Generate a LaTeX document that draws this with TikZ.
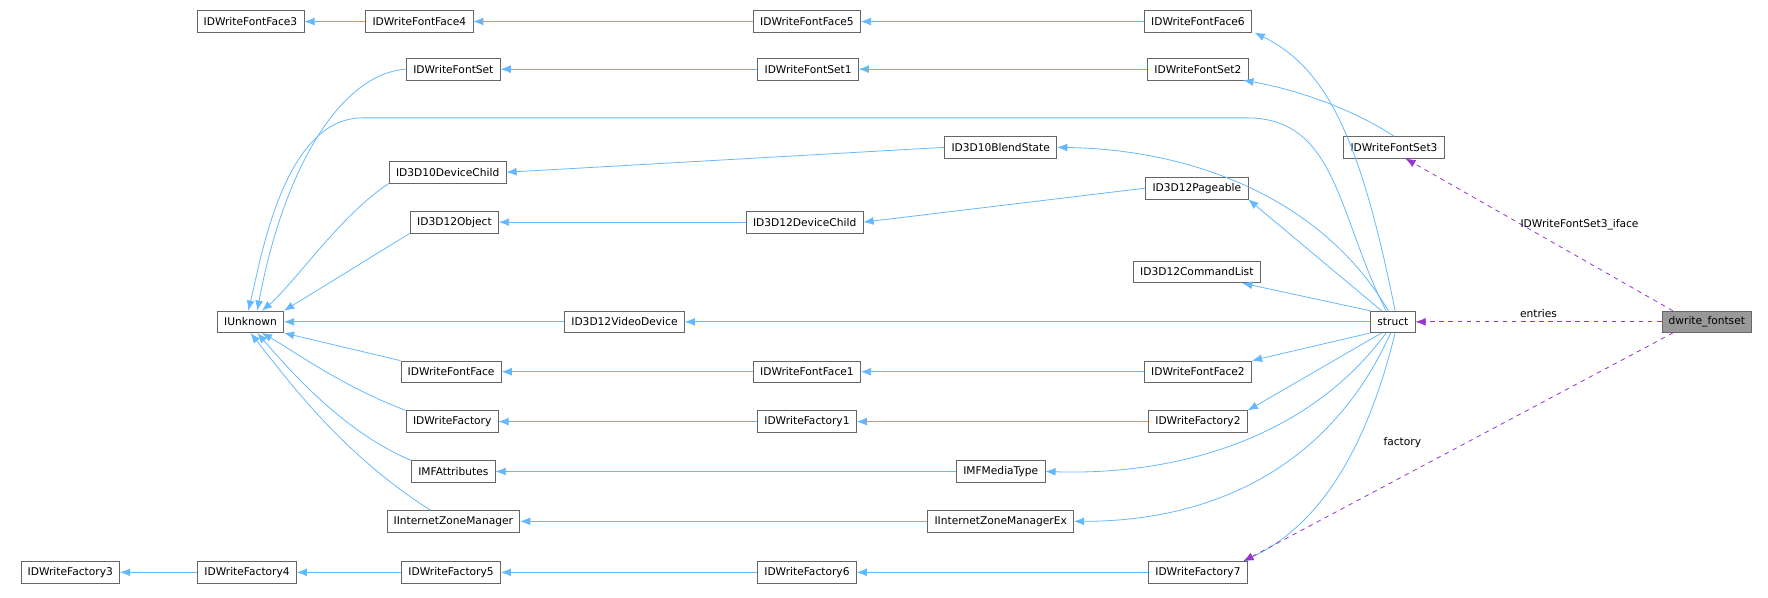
\documentclass[tikz,border=0pt]{standalone}
\usepackage{fontspec}
\setmainfont{DejaVu Sans}
\usetikzlibrary{arrows.meta}
\definecolor{eblue}{HTML}{63B8FF}
\definecolor{epurp}{HTML}{9A32CD}
\begin{document}
\begin{tikzpicture}[x=1pt,y=-1pt,
 box/.style={draw=black!60,fill=white,line width=0.6pt,font=\fontsize{9.4}{11}\selectfont,minimum height=19pt,inner xsep=6pt,inner ysep=0pt},
 e/.style={draw=eblue,line width=0.7pt,-{Latex[length=9pt,width=7pt]}},
 p/.style={draw=epurp,line width=0.7pt,dashed,dash pattern=on 4pt off 4pt,-{Latex[length=9pt,width=7pt]}},
 lb/.style={font=\fontsize{9.4}{11}\selectfont}]
\useasboundingbox (0,0) rectangle (1560,527);
\node[box] (F3) at (221,19) {IDWriteFontFace3};
\node[box] (F4) at (370,19) {IDWriteFontFace4};
\node[box] (F5) at (712,19) {IDWriteFontFace5};
\node[box] (F6) at (1057,19) {IDWriteFontFace6};
\node[box] (S) at (400,61) {IDWriteFontSet};
\node[box] (S1) at (713,61) {IDWriteFontSet1};
\node[box] (S2) at (1057,61) {IDWriteFontSet2};
\node[box] (S3) at (1230,130) {IDWriteFontSet3};
\node[box] (BS) at (883,130) {ID3D10BlendState};
\node[box] (DC10) at (395,152) {ID3D10DeviceChild};
\node[box] (Pg) at (1056,166) {ID3D12Pageable};
\node[box] (Obj) at (401,196) {ID3D12Object};
\node[box] (DC12) at (710,196) {ID3D12DeviceChild};
\node[box] (CL) at (1056,240) {ID3D12CommandList};
\node[box] (IU) at (221,284) {IUnknown};
\node[box] (VD) at (551,284) {ID3D12VideoDevice};
\node[box] (st) at (1229,284) {struct};
\node[box,fill=black!40] (dw) at (1506,284) {dwrite\_fontset};
\node[box] (FF) at (398,328) {IDWriteFontFace};
\node[box] (FF1) at (712,328) {IDWriteFontFace1};
\node[box] (FF2) at (1057,328) {IDWriteFontFace2};
\node[box] (Fa) at (399,372) {IDWriteFactory};
\node[box] (Fa1) at (712,372) {IDWriteFactory1};
\node[box] (Fa2) at (1057,372) {IDWriteFactory2};
\node[box] (IMF) at (400,416) {IMFAttributes};
\node[box] (MT) at (883,416) {IMFMediaType};
\node[box] (IZ) at (400,460) {IInternetZoneManager};
\node[box] (IZx) at (883,460) {IInternetZoneManagerEx};
\node[box] (Fa3) at (62,505) {IDWriteFactory3};
\node[box] (Fa4) at (218,505) {IDWriteFactory4};
\node[box] (Fa5) at (398,505) {IDWriteFactory5};
\node[box] (Fa6) at (712,505) {IDWriteFactory6};
\node[box] (Fa7) at (1057,505) {IDWriteFactory7};
% chains
\draw[e] (F4) -- (F3); \draw[e] (F5) -- (F4); \draw[e] (F6) -- (F5);
\draw[e] (S1) -- (S); \draw[e] (S2) -- (S1);
\draw[e] (BS.west) -- (DC10.east);
\draw[e] (Pg.west) -- (DC12.east);
\draw[e] (DC12) -- (Obj);
\draw[e] (VD) -- (IU);
\draw[e] (FF1) -- (FF); \draw[e] (FF2) -- (FF1);
\draw[e] (Fa1) -- (Fa); \draw[e] (Fa2) -- (Fa1);
\draw[e] (MT) -- (IMF); \draw[e] (IZx) -- (IZ);
\draw[e] (Fa4) -- (Fa3); \draw[e] (Fa5) -- (Fa4); \draw[e] (Fa6) -- (Fa5); \draw[e] (Fa7) -- (Fa6);
% to IUnknown
\draw[e] (S.west) .. controls (300,65) and (250,150) .. ([xshift=6pt]IU.north);
\draw[e] (DC10.south west) .. controls (300,190) and (260,250) .. ([xshift=10pt]IU.north);
\draw[e] (Obj.south west) -- (IU.north east);
\draw[e] (FF.north west) -- (IU.south east);
\draw[e] (Fa.north west) .. controls (300,340) and (260,310) .. ([xshift=10pt]IU.south);
\draw[e] (IMF.north west) .. controls (300,380) and (250,320) .. ([xshift=6pt]IU.south);
\draw[e] ([xshift=-20pt]IZ.north) .. controls (300,400) and (250,330) .. (IU.south);
% struct edges
\draw[e] ([xshift=-6pt]st.north) .. controls (1180,190) and (1180,104) .. (1100,104) -- (320,104) .. controls (250,104) and (230,230) .. ([xshift=-2pt]IU.north);
\draw[e] ([xshift=-4pt]st.north) .. controls (1170,180) and (1060,132) .. (BS.east);
\draw[e] ([xshift=-10pt]st.north) -- (Pg.south east);
\draw[e] (st.north west) -- ([xshift=40pt]CL.south);
\draw[e] (st.west) -- (VD.east);
\draw[e] (st.south west) -- (FF2.north east);
\draw[e] ([xshift=-10pt]st.south) -- (Fa2.north east);
\draw[e] ([xshift=-6pt]st.south) .. controls (1160,380) and (1050,420) .. (MT.east);
\draw[e] ([xshift=-2pt]st.south) .. controls (1170,420) and (1060,460) .. (IZx.east);
\draw[e] ([xshift=2pt]st.south) .. controls (1200,420) and (1150,470) .. ([xshift=40pt]Fa7.north);
\draw[e] ([xshift=2pt]st.north) .. controls (1200,120) and (1170,60) .. ([xshift=50pt]F6.south);
\draw[e] (S3.north) .. controls (1200,100) and (1150,80) .. ([xshift=40pt]S2.south);
% purple
\draw[p] ([xshift=-30pt]dw.north) -- ([xshift=10pt]S3.south) node[lb,pos=0.5,above right,xshift=-20pt] {IDWriteFontSet3\_iface};
\draw[p] (dw) -- (st) node[lb,midway,above] {entries};
\draw[p] ([xshift=-30pt]dw.south) -- ([xshift=40pt]Fa7.north) node[lb,pos=0.55,above left,xshift=-10pt,yshift=6pt] {factory};
\end{tikzpicture}
\end{document}
